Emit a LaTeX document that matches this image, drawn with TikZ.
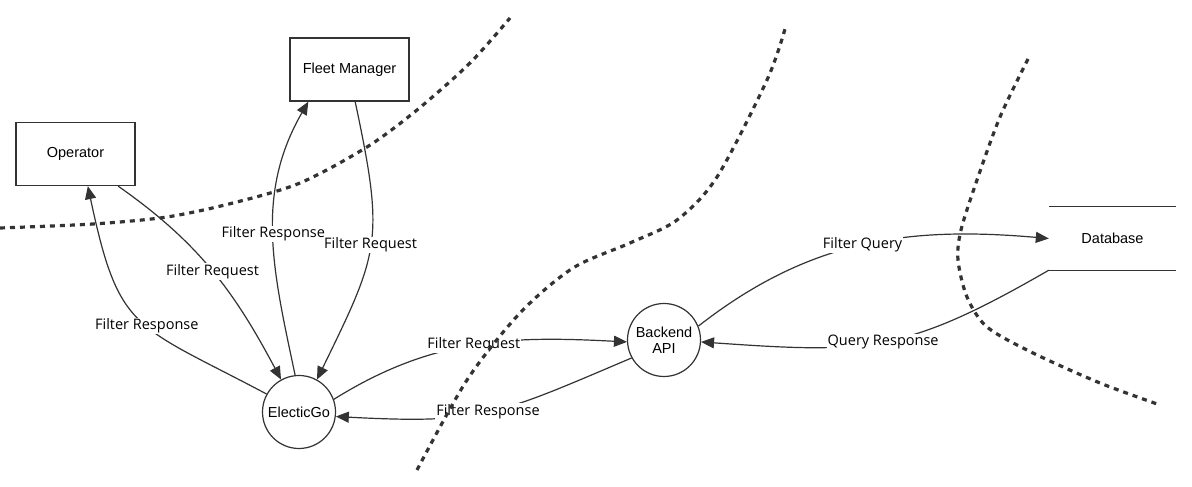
\documentclass[tikz,border=0pt]{standalone}
\usepackage{fontspec}
\setmainfont{Liberation Sans}
\newfontfamily\flowfont{Open Sans}
\usetikzlibrary{arrows.meta}
\definecolor{linegray}{HTML}{333333}

\begin{document}
\begin{tikzpicture}[x=1pt, y=1pt,
  entity/.style={rectangle, draw=linegray, line width=1.3pt, minimum width=119pt, minimum height=63pt, font=\fontsize{14.5}{17}\selectfont},
  process/.style={circle, draw=linegray, line width=1.2pt, minimum size=73pt, inner sep=0pt, align=center, font=\fontsize{14.5}{16}\selectfont},
  store/.style={minimum width=127pt, minimum height=63pt, font=\fontsize{14.5}{17}\selectfont},
  flow/.style={draw=linegray, line width=1.2pt, -{Triangle[length=13pt, width=11pt]}},
  flowlabel/.style={fill=white, inner sep=1pt, font=\flowfont\fontsize{14.5}{17}\selectfont},
  boundary/.style={draw=linegray, line width=3.2pt, dash pattern=on 5pt off 5pt}]
  \useasboundingbox[fill=white] (0,0) rectangle (1192,487);
  \node[entity] (op) at (75.5,333) {Operator};
  \node[entity] (fm) at (349.5,417.5) {Fleet Manager};
  \node[process] (eg) at (299,75) {ElecticGo};
  \node[process] (api) at (664,147) {Backend\\API};
  \node[store] (db) at (1112.5,248.5) {Database};
  \draw[linegray, line width=1.3pt] (db.north west) -- (db.north east);
  \draw[linegray, line width=1.3pt] (db.south west) -- (db.south east);
  \draw[flow] (op.-37) to[out=-35, in=118] node[flowlabel, pos=0.5] {Filter Request} (eg.119);
  \draw[flow] (eg.151) to[out=152, in=-78, looseness=1.4] node[flowlabel, pos=0.45] {Filter Response} (op.-69);
  \draw[flow] (eg.96) to[out=102, in=-120] node[flowlabel, pos=0.5] {Filter Response} (fm.-142);
  \draw[flow] (fm.-80) to[out=-78, in=64, looseness=1.3] node[flowlabel, pos=0.5] {Filter Request} (eg.61);
  \draw[flow] (eg.20) to[out=32, in=177] node[flowlabel, pos=0.5] {Filter Request} (api.183);
  \draw[flow] (api.-151) to[out=-157, in=-3, looseness=1.25] node[flowlabel, pos=0.5] {Filter Response} (eg.-7);
  \draw[flow] (api.22) to[out=38, in=175] node[flowlabel, pos=0.5] {Filter Query} (db.west);
  \draw[flow] (db.south west) to[out=-150, in=-4, looseness=1.2] node[flowlabel, pos=0.5] {Query Response} (api.-3);
  \draw[boundary] plot[smooth] coordinates {(0,259) (93,263) (167,270) (233,284) (300,304) (367,340) (417,377) (470,424) (510,469)};
  \draw[boundary] plot[smooth] coordinates {(417,17) (467,107) (520,174) (573,219) (630,244) (677,267) (717,310) (767,407) (785,458)};
  \draw[boundary] plot[smooth] coordinates {(1028,428) (1000,370) (977,307) (961,257) (958,227) (967,190) (987,160) (1033,134) (1100,104) (1160,82)};
\end{tikzpicture}
\end{document}
